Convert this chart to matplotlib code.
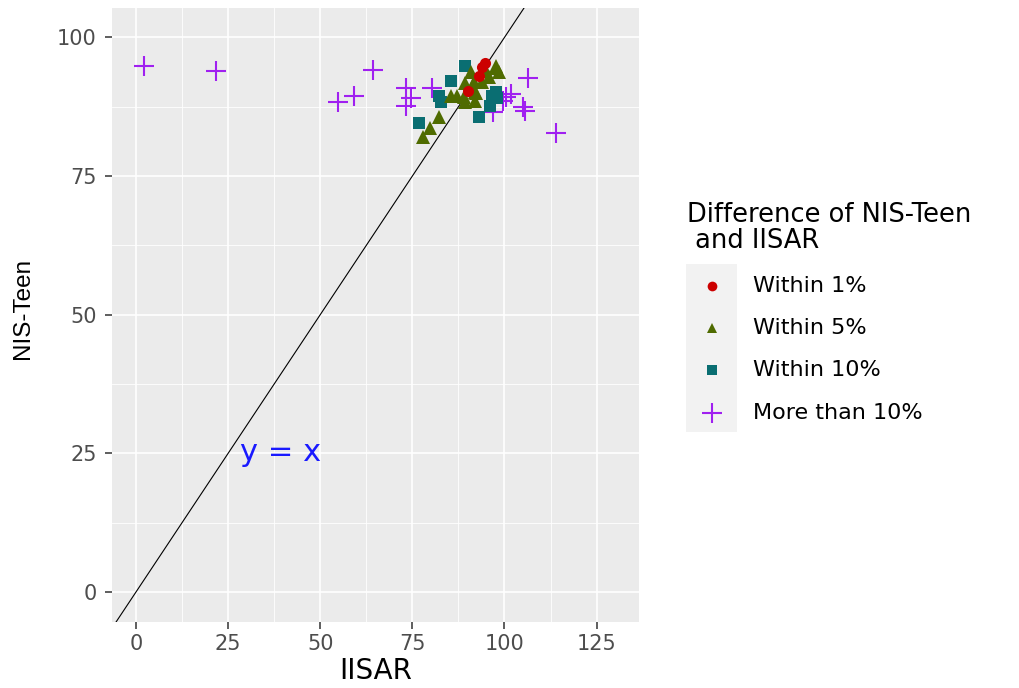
import matplotlib
matplotlib.use("Agg")
import matplotlib.pyplot as plt
from matplotlib.lines import Line2D
from matplotlib.patches import Rectangle

plt.rcParams['font.family'] = ['DejaVu Sans']

# data (IISAR, NIS-Teen)
within1_x = [94.8, 94.0, 93.2, 90.2]
within1_y = [95.4, 94.6, 93.1, 90.4]

within5_x = [82.1, 79.9, 78.0, 90.8, 89.4, 85.4, 87.0, 88.9, 92.1, 92.4,
             91.6, 94.9, 97.6, 98.4, 95.7, 91.1, 89.4, 97.8, 94.0, 92.1]
within5_y = [85.6, 83.6, 82.0, 93.7, 91.7, 89.5, 89.5, 89.2, 88.6, 89.9,
             91.9, 94.0, 94.9, 93.7, 92.8, 91.0, 88.3, 94.4, 91.9, 90.1]

within10_x = [89.4, 85.6, 82.1, 82.7, 76.7, 93.0, 96.5, 97.6, 96.2, 98.1]
within10_y = [94.9, 92.2, 89.5, 88.3, 84.5, 85.6, 89.4, 90.1, 87.7, 89.0]

more10_x = [2.2, 21.7, 54.7, 59.3, 64.2, 73.2, 74.5, 73.2, 80.2,
            106.5, 101.9, 100.5, 99.5, 105.1, 105.7, 114.1, 97.0]
more10_y = [94.8, 93.9, 88.4, 89.5, 94.2, 90.8, 89.0, 87.7, 90.8,
            92.6, 89.8, 89.2, 88.6, 87.4, 86.8, 82.7, 86.5]

groups = ["Within 1%", "Within 5%", "Within 10%", "More than 10%"]
colors = ["#CC0000", "#4F6B00", "#0A6E72", "#A020F0"]
markers = ["o", "^", "s", "+"]
sizes = [8, 9.5, 8, 14]

fig = plt.figure(figsize=(10.2, 6.88), dpi=100)
ax = fig.add_axes([112/1020, 66/688, 527/1020, 614/688])
ax.set_facecolor("#EBEBEB")

ax.set_xlim(-6.5, 136.5)
ax.set_ylim(-5.4, 105.3)
ax.set_xticks([0, 25, 50, 75, 100, 125])
ax.set_yticks([0, 25, 50, 75, 100])
ax.set_xticks([12.5, 37.5, 62.5, 87.5, 112.5], minor=True)
ax.set_yticks([12.5, 37.5, 62.5, 87.5], minor=True)
ax.grid(which="major", color="white", linewidth=1.2)
ax.grid(which="minor", color="white", linewidth=0.6)
ax.set_axisbelow(True)
for s in ax.spines.values():
    s.set_visible(False)
ax.tick_params(which="major", length=5, width=1.1, color="#333333",
               labelcolor="#4D4D4D", labelsize=15)
ax.tick_params(axis="y", pad=6)
ax.tick_params(axis="x", pad=4)
ax.tick_params(which="minor", length=0)

# y = x reference line
ax.axline((0, 0), slope=1, color="black", linewidth=0.8, zorder=2)
ax.text(39.3, 23.6, "y = x", color="#1A1AFF", fontsize=22, ha="center", va="baseline")

xs = [within1_x, within5_x, within10_x, more10_x]
ys = [within1_y, within5_y, within10_y, more10_y]
for i in [3, 2, 1, 0]:
    if markers[i] == "+":
        ax.plot(xs[i], ys[i], linestyle="none", marker="+", color=colors[i],
                markersize=sizes[i], markeredgewidth=1.5, zorder=3)
    else:
        ax.plot(xs[i], ys[i], linestyle="none", marker=markers[i], color=colors[i],
                markersize=sizes[i], markeredgewidth=0, zorder=3)

ax.set_xlabel("IISAR", fontsize=20, labelpad=2)
ax.set_ylabel("NIS-Teen", fontsize=17.5, family="Liberation Sans")
ax.yaxis.set_label_coords(-0.148, 0.511)

# legend drawn by hand, ggplot style
W, H = 1020, 688
fig.text(687/W, 1 - 222/H, "Difference of NIS-Teen", fontsize=18.5,
         ha="left", va="baseline")
fig.text(687/W, 1 - 248/H, " and IISAR", fontsize=18.5,
         ha="left", va="baseline")
fig.add_artist(Rectangle((686/W, 1 - 432/H), 51/W, 168/H, transform=fig.transFigure,
                         facecolor="#F2F2F2", edgecolor="none"))
key_y = [286, 328, 370, 413]
for i, lab in enumerate(groups):
    fy = 1 - key_y[i]/H
    if markers[i] == "+":
        m = Line2D([712/W], [fy], transform=fig.transFigure, linestyle="none",
                   marker="+", color=colors[i], markersize=14, markeredgewidth=1.5)
    else:
        m = Line2D([712/W], [fy], transform=fig.transFigure, linestyle="none",
                   marker=markers[i], color=colors[i], markersize=7, markeredgewidth=0)
    fig.add_artist(m)
    fig.text(753/W, fy, lab, fontsize=16, ha="left", va="center")

fig.savefig("out.png", dpi=100)
